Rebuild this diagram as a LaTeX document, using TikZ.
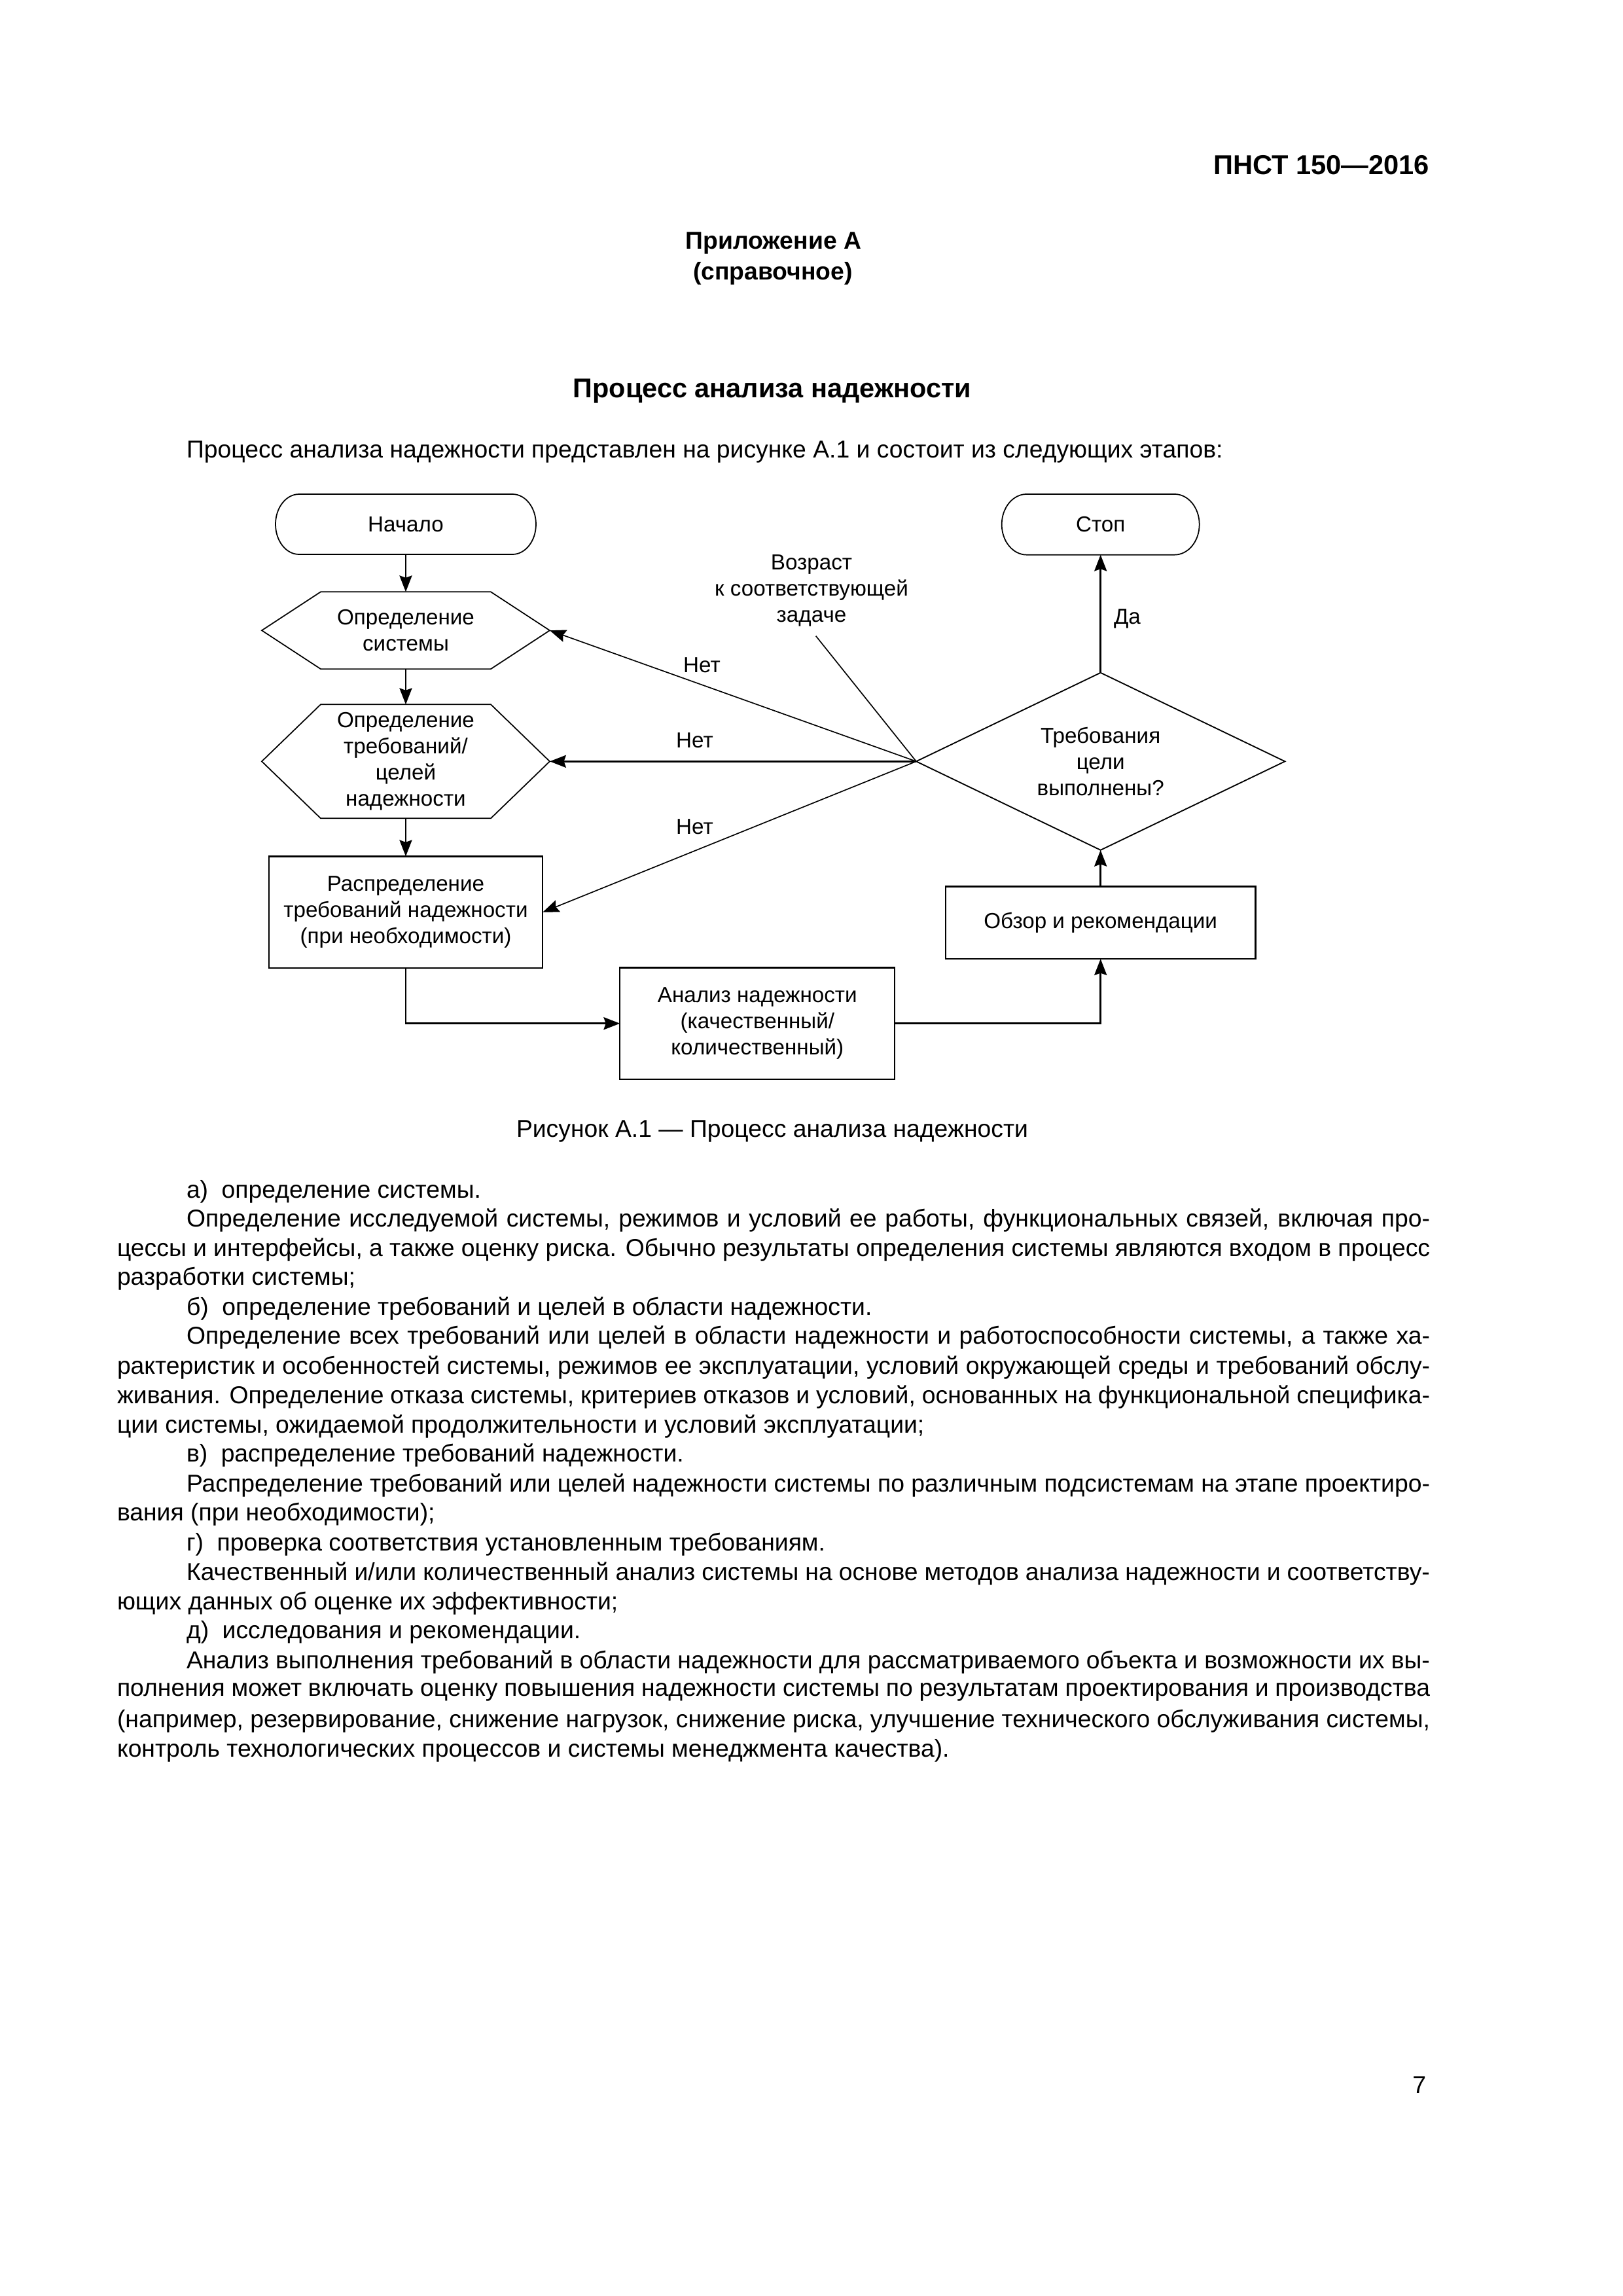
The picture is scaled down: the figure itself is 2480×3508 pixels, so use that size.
\documentclass[tikz,border=0pt]{standalone}
\usepackage{fontspec}
\setmainfont{Liberation Sans}
\usetikzlibrary{arrows.meta,calc}
\newlength\pxu
\setlength\pxu{0.24093pt}
\newcommand\mycalib[3]{\setbox0=\hbox{\fontsize{10pt}{12pt}\selectfont #3}\edef\tmpw{\the\wd0}\pgfmathsetmacro#1{#2*0.24093/\tmpw*10}}
\tikzset{
  dtxt/.style={font=\fontsize{\dsz pt}{9.6pt}\selectfont, align=center, inner sep=0pt, outer sep=0pt},
  boxn/.style={dtxt, draw, line width=0.55pt},
  outl/.style={line width=0.42pt, line join=miter},
  tip/.style={-{Stealth[length=6pt,width=4.6pt,inset=0.8pt]}},
  conn/.style={line width=0.6pt, tip},
  diag/.style={line width=0.4pt, tip},
  plainline/.style={line width=0.4pt},
  body/.style={font=\fontsize{\bodysz pt}{10.84pt}\selectfont, inner sep=0pt, outer sep=0pt, anchor=west},
}
\begin{document}
\mycalib{\bodysz}{1583.6}{Процесс анализа надежности представлен на рисунке А.1 и состоит из следующих этапов:}%
\mycalib{\dsz}{295.7}{к соответствующей}%
\mycalib{\ttlsz}{608.5}{\bfseries Процесс анализа надежности}%
\mycalib{\hdrsz}{330}{\bfseries ПНСТ 150—2016}%
\mycalib{\appsz}{268.3}{\bfseries Приложение А}%
\begin{tikzpicture}[x=0.24093pt,y=-0.24093pt]
\fill[white] (0,0) rectangle (2480,3508);
\useasboundingbox (0,0) rectangle (2480,3508);

% page header and titles
\node[font=\fontsize{\hdrsz pt}{12pt}\selectfont\bfseries, anchor=east, inner sep=0pt] (hdr) at (2185,252) {ПНСТ 150—2016};
\node[font=\fontsize{\appsz pt}{12pt}\selectfont\bfseries, inner sep=0pt] (app) at (1182,371.4) {Приложение А};
\node[font=\fontsize{\appsz pt}{12pt}\selectfont\bfseries, inner sep=0pt] (appb) at (1181,418) {(справочное)};
\node[font=\fontsize{\ttlsz pt}{14pt}\selectfont\bfseries, inner sep=0pt] (ttl) at (1180,598) {Процесс анализа надежности};
\node[body] (intro) at (285,691) {Процесс анализа надежности представлен на рисунке А.1 и состоит из следующих этапов:};

% ---------------- diagram ----------------
\node[dtxt, minimum width=398\pxu, minimum height=92\pxu] (start) at (620,801) {Начало};
\draw[outl] ([xshift=36\pxu]start.north west) -- ([xshift=-36\pxu]start.north east)
  arc[start angle=90, end angle=-90, x radius=36\pxu, y radius=46\pxu]
  -- ([xshift=36\pxu]start.south west)
  arc[start angle=270, end angle=90, x radius=36\pxu, y radius=46\pxu] -- cycle;

\node[dtxt, minimum width=302\pxu, minimum height=92.7\pxu] (stop) at (1681.7,801.3) {Стоп};
\draw[outl] ([xshift=38\pxu]stop.north west) -- ([xshift=-38\pxu]stop.north east)
  arc[start angle=90, end angle=-90, x radius=38\pxu, y radius=46.35\pxu]
  -- ([xshift=38\pxu]stop.south west)
  arc[start angle=270, end angle=90, x radius=38\pxu, y radius=46.35\pxu] -- cycle;

\node[dtxt, minimum width=440\pxu, minimum height=117.8\pxu] (h1) at (620,963.2) {Определение\\системы};
\draw[outl] (h1.west) -- ([xshift=90\pxu]h1.north west) -- ([xshift=-90\pxu]h1.north east) -- (h1.east)
  -- ([xshift=-90\pxu]h1.south east) -- ([xshift=90\pxu]h1.south west) -- cycle;

\node[dtxt, minimum width=440\pxu, minimum height=174\pxu] (h2) at (620,1163.3) {Определение\\требований/\\целей\\надежности};
\draw[outl] (h2.west) -- ([xshift=90\pxu]h2.north west) -- ([xshift=-90\pxu]h2.north east) -- (h2.east)
  -- ([xshift=-90\pxu]h2.south east) -- ([xshift=90\pxu]h2.south west) -- cycle;

\node[boxn, minimum width=418.6\pxu, minimum height=170.7\pxu] (dist) at (620,1393.7) {Распределение\\требований надежности\\(при необходимости)};
\node[boxn, minimum width=420\pxu, minimum height=170.7\pxu] (anal) at (1157.3,1563.7) {Анализ надежности\\(качественный/\\количественный)};
\node[boxn, minimum width=473.3\pxu, minimum height=110.7\pxu] (rev) at (1681.7,1409.7) {Обзор и рекомендации};

\node[dtxt, minimum width=563.4\pxu, minimum height=271\pxu] (dia) at (1681.7,1163.3) {Требования\\цели\\выполнены?};
\draw[outl, line width=0.45pt] (dia.west) -- (dia.north) -- (dia.east) -- (dia.south) -- cycle;

\node[dtxt] (age) at (1240,902.5) {Возраст\\к соответствующей\\задаче};
\coordinate (agept) at (1246.7,971.7);

\node[dtxt] (no1) at (1072.5,1016.7) {Нет};
\node[dtxt] (no2) at (1061.5,1131.7) {Нет};
\node[dtxt] (no3) at (1061.5,1263.3) {Нет};
\node[dtxt, anchor=west] (yes) at (1702,945) {Да};

% connectors
\draw[conn] (start.south) -- (h1.north);
\draw[conn] (h1.south) -- (h2.north);
\draw[conn] (h2.south) -- (dist.north);
\draw[conn] (dist.south) |- (anal.west);
\draw[conn] (anal.east) -| (rev.south);
\draw[conn] (rev.north) -- (dia.south);
\draw[conn] (dia.north) -- (stop.south);
\draw[diag] (dia.west) -- (h1.east);
\draw[conn] (dia.west) -- (h2.east);
\draw[diag] (dia.west) -- (dist.east);
\draw[plainline] (agept) -- (dia.west);

% caption
\node[font=\fontsize{\bodysz pt}{12pt}\selectfont, inner sep=0pt] (cap) at (1180,1729) {Рисунок А.1 — Процесс анализа надежности};

% body text
\node[body] (b1) at (285,1820.4) {а)\hspace{0.55em}определение системы.};
\node[body] (b2) at (285,1864.6) {\makebox[1900\pxu][s]{Определение исследуемой системы, режимов и условий ее работы, функциональных связей, включая про-}};
\node[body] (b3) at (179,1909.5) {\makebox[2006\pxu][s]{цессы и интерфейсы, а также оценку риска. Обычно результаты определения системы являются входом в процесс}};
\node[body] (b4) at (179,1953.7) {разработки системы;};
\node[body] (b5) at (285,1999.3) {б)\hspace{0.55em}определение требований и целей в области надежности.};
\node[body] (b6) at (285,2043.5) {\makebox[1900\pxu][s]{Определение всех требований или целей в области надежности и работоспособности системы, а также ха-}};
\node[body] (b7) at (179,2089.1) {\makebox[2006\pxu][s]{рактеристик и особенностей системы, режимов ее эксплуатации, условий окружающей среды и требований обслу-}};
\node[body] (b8) at (179,2134.7) {\makebox[2006\pxu][s]{живания. Определение отказа системы, критериев отказов и условий, основанных на функциональной специфика-}};
\node[body] (b9) at (179,2179.6) {ции системы, ожидаемой продолжительности и условий эксплуатации;};
\node[body] (b10) at (285,2223.9) {в)\hspace{0.55em}распределение требований надежности.};
\node[body] (b11) at (285,2269.5) {\makebox[1900\pxu][s]{Распределение требований или целей надежности системы по различным подсистемам на этапе проектиро-}};
\node[body] (b12) at (179,2313.7) {вания (при необходимости);};
\node[body] (b13) at (285,2359.3) {г)\hspace{0.55em}проверка соответствия установленным требованиям.};
\node[body] (b14) at (285,2404.9) {\makebox[1900\pxu][s]{Качественный и/или количественный анализ системы на основе методов анализа надежности и соответству-}};
\node[body] (b15) at (179,2449.8) {ющих данных об оценке их эффективности;};
\node[body] (b16) at (285,2494) {д)\hspace{0.55em}исследования и рекомендации.};
\node[body] (b17) at (285,2539.6) {\makebox[1900\pxu][s]{Анализ выполнения требований в области надежности для рассматриваемого объекта и возможности их вы-}};
\node[body] (b18) at (179,2585.3) {\makebox[2006\pxu][s]{полнения может включать оценку повышения надежности системы по результатам проектирования и производства}};
\node[body] (b19) at (179,2629.5) {\makebox[2006\pxu][s]{(например, резервирование, снижение нагрузок, снижение риска, улучшение технического обслуживания системы,}};
\node[body] (b20) at (179,2675.1) {контроль технологических процессов и системы менеджмента качества).};

% page number
\node[font=\fontsize{\bodysz pt}{12pt}\selectfont, anchor=east, inner sep=0pt] (pg) at (2180,3186) {7};
\end{tikzpicture}
\end{document}
